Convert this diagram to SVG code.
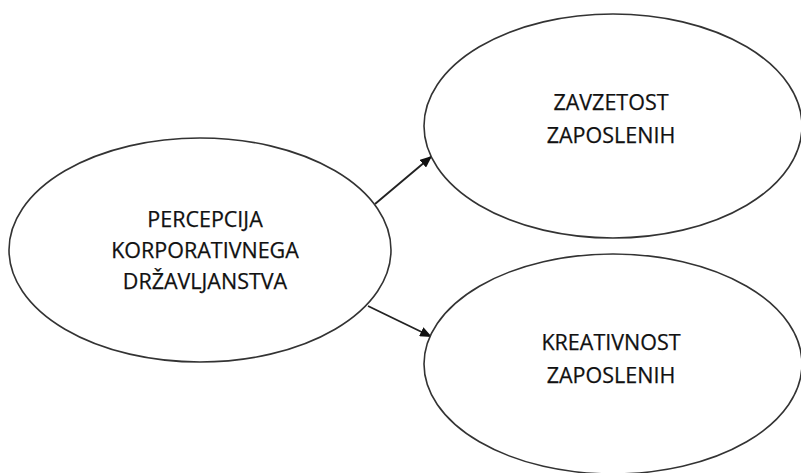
<svg xmlns="http://www.w3.org/2000/svg" width="801" height="473" viewBox="0 0 801 473">
<style>
.node{fill:#fff;stroke:#333;stroke-width:1.6}
.lbl{font-family:"Open Sans","Noto Sans",sans-serif;font-size:21.5px;fill:#111;stroke:#111;stroke-width:0.25;text-anchor:middle}
.edge{stroke:#222;stroke-width:1.8;fill:none}
</style>
<defs>
<marker id="arr" viewBox="0 0 12 10" refX="12" refY="5" markerWidth="12" markerHeight="10" markerUnits="userSpaceOnUse" orient="auto">
<path d="M0,0 L12,5 L0,10 z" fill="#111"/>
</marker>
</defs>
<g id="connectors">
<line class="edge" x1="375" y1="204" x2="432" y2="156" marker-end="url(#arr)"/>
<line class="edge" x1="368" y1="306" x2="432" y2="337" marker-end="url(#arr)"/>
</g>
<g id="n1">
<ellipse class="node" cx="200" cy="250" rx="191" ry="112"/>
<text class="lbl" x="205" y="227">PERCEPCIJA</text>
<text class="lbl" x="205" y="258">KORPORATIVNEGA</text>
<text class="lbl" x="205" y="289">DRŽAVLJANSTVA</text>
</g>
<g id="n2">
<ellipse class="node" cx="613" cy="126" rx="189" ry="112"/>
<text class="lbl" x="611" y="110">ZAVZETOST</text>
<text class="lbl" x="611" y="143">ZAPOSLENIH</text>
</g>
<g id="n3">
<ellipse class="node" cx="613" cy="364" rx="189" ry="110"/>
<text class="lbl" x="611" y="350">KREATIVNOST</text>
<text class="lbl" x="611" y="383">ZAPOSLENIH</text>
</g>
</svg>
